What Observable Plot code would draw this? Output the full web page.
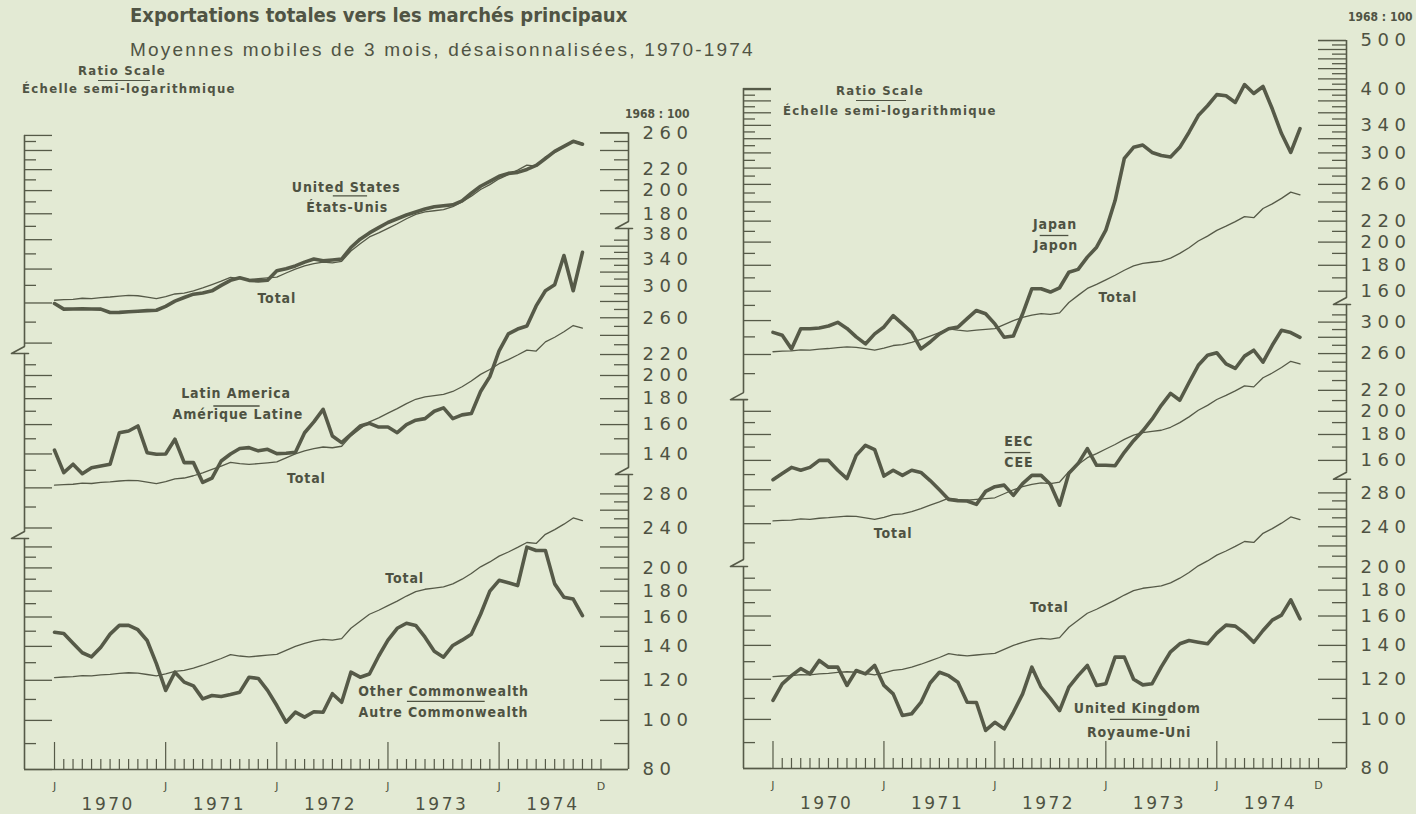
<!DOCTYPE html>
<html>
<head>
<meta charset="utf-8">
<script src="https://cdn.jsdelivr.net/npm/d3@7"></script>
<script src="https://cdn.jsdelivr.net/npm/@observablehq/plot@0.6"></script>
<style>
  html, body { margin: 0; padding: 0; background: #e3ead4; }
  #page { position: relative; width: 1416px; height: 814px; overflow: hidden; background: #e3ead4; color: #505444; }
  .abs { position: absolute; white-space: nowrap; }
  .title { left: 130px; top: 3px; font: bold 20px "DejaVu Sans Condensed", "Liberation Sans Narrow", "Liberation Sans", sans-serif; }
  .subtitle { left: 130px; top: 39px; font: 19px "Liberation Sans", "DejaVu Sans", sans-serif; letter-spacing: 2.2px; }
  .note { font: bold 13px "DejaVu Sans Condensed", "Liberation Sans Narrow", "Liberation Sans", sans-serif; letter-spacing: 1.3px; }
  .base { font: bold 12px "DejaVu Sans Condensed", "Liberation Sans Narrow", "Liberation Sans", sans-serif; letter-spacing: 0px; }
  .rule { position: absolute; height: 0; border-top: 1.3px solid #505444; }
  .panel { position: absolute; top: 0; }
  .panel svg { overflow: visible; }
  g[aria-description="series-labels"] text { letter-spacing: 0.9px; }
  g[aria-description="axis-numbers"] text { letter-spacing: 5.5px; }
  g[aria-description="year-labels"] text { letter-spacing: 2.5px; }
</style>
</head>
<body>
<div id="page">
  <div class="abs title">Exportations totales vers les marchés principaux</div>
  <div class="abs subtitle">Moyennes mobiles de 3 mois, désaisonnalisées, 1970-1974</div>

  <div class="abs note" style="left:62px;width:120px;text-align:center;top:63px;">Ratio Scale</div>
  <div class="rule" style="left:98px;width:52px;top:80px;"></div>
  <div class="abs note" style="left:22px;top:81px;">Échelle semi-logarithmique</div>
  <div class="abs base" style="left:625px;top:107px;">1968 : 100</div>

  <div class="abs note" style="left:820px;width:120px;text-align:center;top:83px;">Ratio Scale</div>
  <div class="rule" style="left:856px;width:50px;top:100px;"></div>
  <div class="abs note" style="left:783px;top:103px;">Échelle semi-logarithmique</div>
  <div class="abs base" style="left:1348px;top:10px;">1968 : 100</div>

  <div id="left" class="panel" style="left:0px;"></div>
  <div id="right" class="panel" style="left:700px;"></div>
</div>
<script>
// ---------------- data (1968 = 100), monthly Jan 1970 .. Oct 1974 ----------------
const firstMonth = "1970-01";
const total = [121.5,121.8,122.0,122.6,122.4,123.0,123.3,123.8,124.2,124.0,
  123.2,122.4,123.5,125.0,125.5,126.8,128.5,130.5,132.5,134.8,
  134.0,133.5,134.0,134.5,135.0,137.5,140.0,142.0,143.5,144.5,
  144.0,145.0,152.0,157.0,162.0,165.0,168.5,172.0,176.0,179.5,
  181.5,182.5,183.5,186.0,190.0,195.0,201.0,205.5,211.0,215.0,
  219.5,224.5,223.5,233.0,238.0,244.0,251.0,248.0];
const unitedStates = [119.7,116.7,116.8,116.9,116.8,116.7,114.9,115.0,115.3,115.6,
  115.9,116.1,118.2,121.0,123.0,124.9,125.6,126.8,130.0,133.0,
  134.6,133.0,132.7,133.1,138.9,140.2,142.0,144.5,146.5,145.4,
  145.9,146.5,154.4,160.4,165.0,169.0,173.0,176.0,179.0,181.5,
  184.0,185.8,186.7,187.5,190.9,197.6,204.0,208.6,213.4,216.3,
  217.3,220.2,224.2,231.4,239.0,244.6,250.2,247.0];
const latinAmerica = [142.4,128.6,133.6,128.0,131.5,132.5,133.6,154.2,155.4,159.0,
  140.8,139.8,140.0,149.7,134.6,134.6,123.0,125.5,135.6,140.0,
  143.5,144.1,142.0,143.0,140.2,140.5,141.0,154.2,162.0,171.5,
  151.9,147.4,153.0,159.0,160.9,158.2,158.2,154.2,160.0,163.2,
  164.4,170.0,172.6,164.4,167.2,168.2,186.0,199.0,223.6,241.6,
  247.0,250.5,274.4,294.0,302.0,345.0,294.0,350.0];
const otherCommonwealth = [149.3,148.5,142.0,136.0,133.5,139.5,148.0,154.0,154.0,151.0,
  143.8,129.4,114.6,124.5,119.0,117.0,110.3,112.0,111.5,112.5,
  113.7,121.7,121.0,114.6,107.0,99.2,103.8,101.5,104.0,103.8,
  112.9,108.6,124.5,121.7,123.5,134.0,144.0,152.0,155.5,154.0,
  146.0,137.0,133.3,140.6,144.0,148.0,162.0,180.0,189.0,187.0,
  184.6,219.8,216.5,216.5,186.0,175.0,173.6,161.0];
const japan = [132.7,131.0,123.1,134.9,134.9,135.4,136.6,138.9,135.1,130.0,
  125.9,131.8,136.0,143.2,137.9,132.7,123.1,127.0,131.8,134.9,
  135.9,141.2,146.6,144.4,137.9,129.8,130.5,144.4,161.8,161.8,
  159.4,162.5,174.4,176.7,186.8,195.4,211.2,241.6,292.5,307.7,
  310.8,300.6,296.6,294.5,307.7,329.6,355.5,371.7,391.0,389.0,
  377.3,409.3,393.0,405.7,366.6,327.6,300.6,335.1];
const eec = [146.6,150.7,155.0,153.0,155.0,160.0,160.0,153.0,147.3,163.7,
  171.4,168.0,149.0,153.0,149.5,153.0,151.5,146.0,140.0,134.0,
  133.2,133.0,131.0,139.0,142.0,143.0,136.5,144.0,149.5,149.5,
  143.6,130.5,151.0,157.7,168.8,156.5,156.5,156.2,166.0,175.0,
  183.0,193.0,205.5,217.0,210.3,228.0,246.5,258.0,261.0,248.0,
  243.0,257.0,264.0,250.0,270.0,289.0,286.0,280.0];
const unitedKingdom = [109.0,117.5,122.0,126.0,123.0,130.7,126.8,126.8,116.7,124.9,
  123.0,127.8,116.7,112.3,101.8,102.6,108.0,118.0,123.9,122.0,
  118.4,108.1,108.0,95.1,98.7,95.8,103.3,112.3,126.8,115.8,
  110.0,104.1,115.8,122.0,127.8,116.7,117.6,132.7,132.7,120.0,
  117.0,117.6,127.0,136.0,141.0,143.1,142.0,141.0,148.0,153.5,
  152.8,148.0,142.0,149.8,157.0,160.6,172.2,158.0];

// x-axis tick labels (month index from Jan 1970)
const monthLetters = ["J", "J", "J", "J", "J", "D"];
const monthLetterIndex = [0, 12, 24, 36, 48, 59];
const yearLabels = ["1970", "1971", "1972", "1973", "1974"];
const monthTickCount = 60;

// right-axis tick labels for each stacked section
const leftPanelAxisLabels = {
  top: [260, 220, 200, 180],
  middle: [380, 340, 300, 260, 220, 200, 180, 160, 140],
  bottom: [280, 240, 200, 180, 160, 140, 120, 100, 80]
};
const rightPanelAxisLabels = {
  top: [500, 400, 340, 300, 260, 220, 200, 180, 160],
  middle: [300, 260, 220, 200, 180, 160],
  bottom: [280, 240, 200, 180, 160, 140, 120, 100, 80]
};

// series labels: [text, month index (centre), value, section]
const leftPanelLabels = [
  ["United States", 31.5, 202.6, "top"],
  ["États-Unis", 31.6, 184.9, "top"],
  ["Total", 24.0, 122.3, "top"],
  ["Latin America", 19.6, 183.9, "middle"],
  ["Amérique Latine", 19.8, 167.2, "middle"],
  ["Total", 27.2, 125.0, "middle"],
  ["Total", 37.8, 190.6, "bottom"],
  ["Other Commonwealth", 42.0, 114.0, "bottom"],
  ["Autre Commonwealth", 42.0, 103.7, "bottom"]
];
const leftPanelSeparators = [[30.1, 33.8, 195.3, "top"], [17.2, 22.2, 174.1, "middle"], [38.1, 46.5, 109.0, "bottom"]];
const rightPanelLabels = [
  ["Japan", 30.5, 216.7, "top"],
  ["Japon", 30.6, 196.9, "top"],
  ["Total", 37.3, 155.5, "top"],
  ["EEC", 26.6, 174.5, "middle"],
  ["CEE", 26.6, 158.6, "middle"],
  ["Total", 13.0, 114.9, "middle"],
  ["Total", 29.9, 166.4, "bottom"],
  ["United Kingdom", 39.4, 105.1, "bottom"],
  ["Royaume-Uni", 39.6, 94.2, "bottom"]
];
const rightPanelSeparators = [[28.9, 32.0, 206.1, "top"], [25.1, 27.9, 165.8, "middle"], [36.5, 42.7, 100.0, "bottom"]];

// ---------------- drawing ----------------
const INK = "#565a48";
const TEXT = "#4e5242";

function makePanel(cfg) {
  const {width, height, marginLeft, marginRight, marginTop, marginBottom, xDomain, domainTop, f} = cfg;
  const [xL, xR] = xDomain;
  const K = (height - marginBottom - marginTop) / Math.log(domainTop / 80);
  const ppm = (width - marginLeft - marginRight) / (xR - xL);
  const up = (v, px) => v * Math.exp(px / K);
  const mx = px => px / ppm;

  const axisRules = [], ticks = [], zig = [];
  for (const side of ["left", "right"]) {
    const secs = cfg.axes[side];
    const ax = side === "left" ? xL : xR;
    const dir = side === "left" ? 1 : -1;
    const LONG = 28, SHORT = side === "left" ? 12 : 14;
    secs.forEach((s, k) => {
      const fs = f[s.sec];
      const hasAbove = k > 0, hasBelow = k < secs.length - 1;
      let yHi = s.hi * fs, yLo = s.lo * fs;
      if (hasAbove) yHi = up(yHi, -1);
      if (hasBelow) yLo = up(yLo, 6);
      axisRules.push({x: ax, y1: yLo, y2: yHi});
      for (let v = Math.ceil(s.lo / 10) * 10; v <= s.hi + 1e-9; v += 10) {
        const yy = v * fs;
        if (hasBelow && yy < up(s.lo * fs, 8)) continue;
        if (hasAbove && yy > up(s.hi * fs, -7)) continue;
        const long = v % 20 === 0;
        ticks.push({x1: ax, x2: ax + dir * mx(long ? LONG : SHORT), y: yy});
      }
      if (k === 0) ticks.push({x1: ax, x2: ax + dir * mx(LONG), y: s.hi * fs});
      if (hasBelow) {
        const yb = s.lo * fs;
        const g = side + k;
        zig.push({g, x: ax, y: up(yb, 6)});
        zig.push({g, x: ax - mx(13), y: up(yb, -1)});
        zig.push({g, x: ax + mx(4), y: up(yb, -1)});
      }
    });
  }

  const monthTicks = d3.range(monthTickCount).map(i => ({i, major: i % 12 === 0}));
  const axisLabelData = [];
  for (const sec of ["top", "middle", "bottom"]) {
    for (const v of cfg.axisLabels[sec]) axisLabelData.push({y: v * f[sec], text: String(v)});
  }
  const rows = (arr, sec) => arr.map((v, i) => ({i, y: v * f[sec]}));

  const marks = [
    Plot.ruleX(axisRules, {x: "x", y1: "y1", y2: "y2", stroke: INK, strokeWidth: 1.6}),
    Plot.ruleY(ticks, {y: "y", x1: "x1", x2: "x2", stroke: INK, strokeWidth: 1.3}),
    Plot.line(zig, {x: "x", y: "y", z: "g", stroke: INK, strokeWidth: 1.6, curve: "linear"}),
    Plot.ruleY([80], {x1: xL, x2: xR, stroke: INK, strokeWidth: 1.6}),
    Plot.ruleX(monthTicks, {x: "i", y1: 80, y2: d => up(80, d.major ? 27 : 10), stroke: INK, strokeWidth: 1.2}),
    Plot.text(monthLetters, {x: (d, k) => monthLetterIndex[k], y: 80, text: d => d, dy: 17, fontSize: 11, fontFamily: "DejaVu Sans, sans-serif", fill: TEXT}),
    Plot.text(yearLabels, {x: (d, k) => 5.8 + 12 * k, y: 80, text: d => d, dy: 35, fontSize: 17, fontFamily: "DejaVu Sans, sans-serif", fill: TEXT, ariaDescription: "year-labels"}),
    Plot.text(axisLabelData, {x: xR, y: "y", text: "text", dx: 14, textAnchor: "start", fontSize: 18, fontFamily: "DejaVu Sans, sans-serif", fill: TEXT, ariaDescription: "axis-numbers"}),
  ];
  for (const sec of ["top", "middle", "bottom"]) {
    marks.push(Plot.line(rows(total, sec), {x: "i", y: "y", stroke: INK, strokeWidth: 1.3}));
  }
  for (const sec of ["top", "middle", "bottom"]) {
    marks.push(Plot.line(rows(cfg.series[sec], sec), {x: "i", y: "y", stroke: INK, strokeWidth: 3.6, strokeLinejoin: "round"}));
  }
  marks.push(Plot.text(cfg.labels, {
    x: d => d[1], y: d => d[2] * f[d[3]], text: d => d[0], textAnchor: "middle",
    fontSize: 14, fontWeight: "bold", fontFamily: "DejaVu Sans Condensed, Liberation Sans Narrow, Liberation Sans, sans-serif",
    fill: TEXT, ariaDescription: "series-labels"
  }));
  marks.push(Plot.ruleY(cfg.separators, {x1: d => d[0], x2: d => d[1], y: d => d[2] * f[d[3]], stroke: TEXT, strokeWidth: 1.3}));

  return Plot.plot({
    width, height, marginLeft, marginRight, marginTop, marginBottom,
    x: {domain: xDomain, axis: null},
    y: {type: "log", domain: [80, domainTop], axis: null},
    style: {background: "transparent", overflow: "visible"},
    marks
  });
}

document.getElementById("left").appendChild(makePanel({
  width: 700, height: 814, marginLeft: 24, marginRight: 72, marginTop: 130, marginBottom: 45,
  xDomain: [-3.24, 61.97], domainTop: 1460.5,
  f: {top: 5.557, middle: 2.398, bottom: 1},
  axes: {
    right: [{sec: "top", lo: 169.1, hi: 260}, {sec: "middle", lo: 128.1, hi: 392.0}, {sec: "bottom", lo: 80, hi: 307.2}],
    left: [{sec: "top", lo: 95.8, hi: 257.0}, {sec: "middle", lo: 95.8, hi: 222.1}, {sec: "bottom", lo: 80, hi: 229.7}]
  },
  axisLabels: leftPanelAxisLabels,
  series: {top: unitedStates, middle: latinAmerica, bottom: otherCommonwealth},
  labels: leftPanelLabels,
  separators: leftPanelSeparators
}));

document.getElementById("right").appendChild(makePanel({
  width: 716, height: 814, marginLeft: 43, marginRight: 70, marginTop: 28, marginBottom: 46,
  xDomain: [-3.19, 62.03], domainTop: 2311.4,
  f: {top: 4.377, middle: 2.0285, bottom: 1},
  axes: {
    right: [{sec: "top", lo: 151.3, hi: 500}, {sec: "middle", lo: 147.5, hi: 326.8}, {sec: "bottom", lo: 80, hi: 299}],
    left: [{sec: "top", lo: 98.2, hi: 402}, {sec: "middle", lo: 99.2, hi: 212}, {sec: "bottom", lo: 80, hi: 201.3}]
  },
  axisLabels: rightPanelAxisLabels,
  series: {top: japan, middle: eec, bottom: unitedKingdom},
  labels: rightPanelLabels,
  separators: rightPanelSeparators
}));
</script>
</body>
</html>
